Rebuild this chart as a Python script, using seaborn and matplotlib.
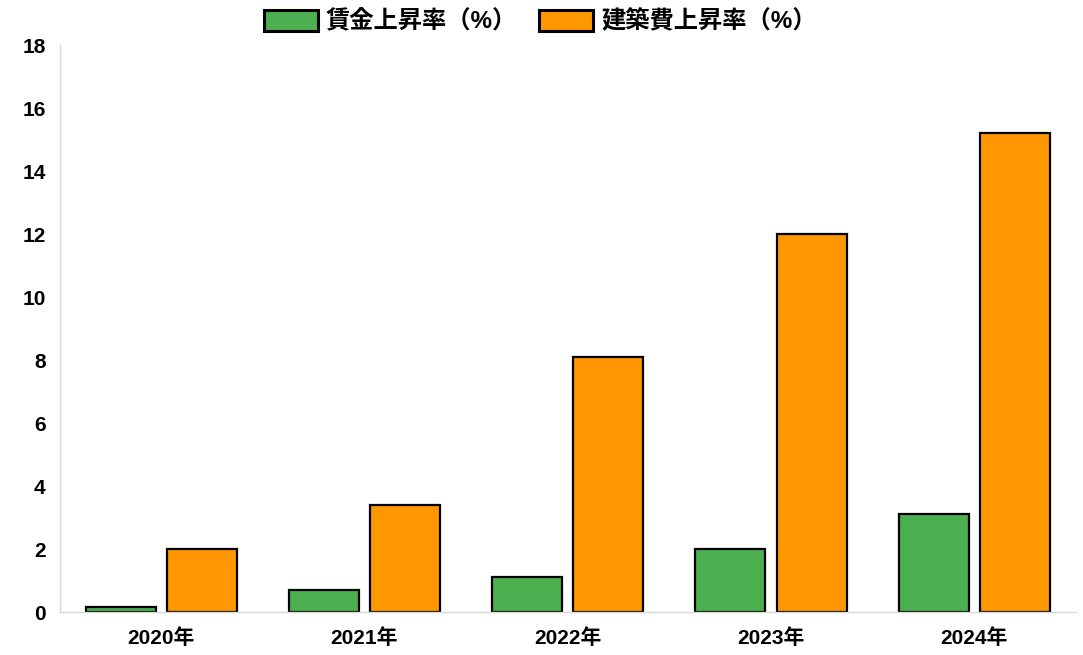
import matplotlib
matplotlib.use("Agg")
import matplotlib.pyplot as plt
import seaborn as sns
import pandas as pd

years = ["2020年", "2021年", "2022年", "2023年", "2024年"]
wage_rise = [0.15, 0.7, 1.1, 2.0, 3.1]
cost_rise = [2.0, 3.4, 8.1, 12.0, 15.2]
series_names = ["賃金上昇率（%）", "建築費上昇率（%）"]
colors = ["#4caf50", "#ff9800"]
yticks = [0, 2, 4, 6, 8, 10, 12, 14, 16, 18]

df = pd.DataFrame({
    "year": years * 2,
    "value": wage_rise + cost_rise,
    "series": [series_names[0]] * len(years) + [series_names[1]] * len(years),
})

sns.set_theme(style="white")
plt.rcParams["font.family"] = ["Liberation Sans", "Noto Sans CJK JP", "DejaVu Sans"]
plt.rcParams["font.weight"] = "bold"
plt.rcParams["text.color"] = "black"
plt.rcParams["xtick.color"] = "black"
plt.rcParams["ytick.color"] = "black"

fig = plt.figure(figsize=(10.83, 6.55), dpi=100)
ax = fig.add_axes([0.055, 0.0656, 0.9385, 0.8654])

sns.barplot(data=df, x="year", y="value", hue="series", palette=colors,
            width=0.8, gap=0.14, edgecolor="black", linewidth=1.6,
            saturation=1, ax=ax)

ax.set_xlim(-0.5, 4.5)
ax.set_ylim(0, 18)
ax.set_yticks(yticks)
ax.set_xlabel("")
ax.set_ylabel("")
for lab in ax.get_xticklabels() + ax.get_yticklabels():
    lab.set_fontweight("bold")
    lab.set_fontsize(15)
    lab.set_color("black")
ax.tick_params(axis="y", length=0, pad=10)
ax.tick_params(axis="x", length=0, pad=12)
for s in ["top", "right"]:
    ax.spines[s].set_visible(False)
for s in ["left", "bottom"]:
    ax.spines[s].set_color("#d9d9d9")
    ax.spines[s].set_linewidth(1)

leg = ax.legend(loc="lower center", bbox_to_anchor=(0.473, 0.995), ncol=2,
                frameon=False, prop={"weight": "bold", "size": 17.5},
                handlelength=2.2, handleheight=0.95, columnspacing=0.9,
                handletextpad=0.35, borderaxespad=0.2)
for h in leg.legend_handles:
    h.set_linewidth(2.2)
    h.set_edgecolor("black")
for t in leg.get_texts():
    t.set_color("black")

fig.savefig("out.png", dpi=100)
